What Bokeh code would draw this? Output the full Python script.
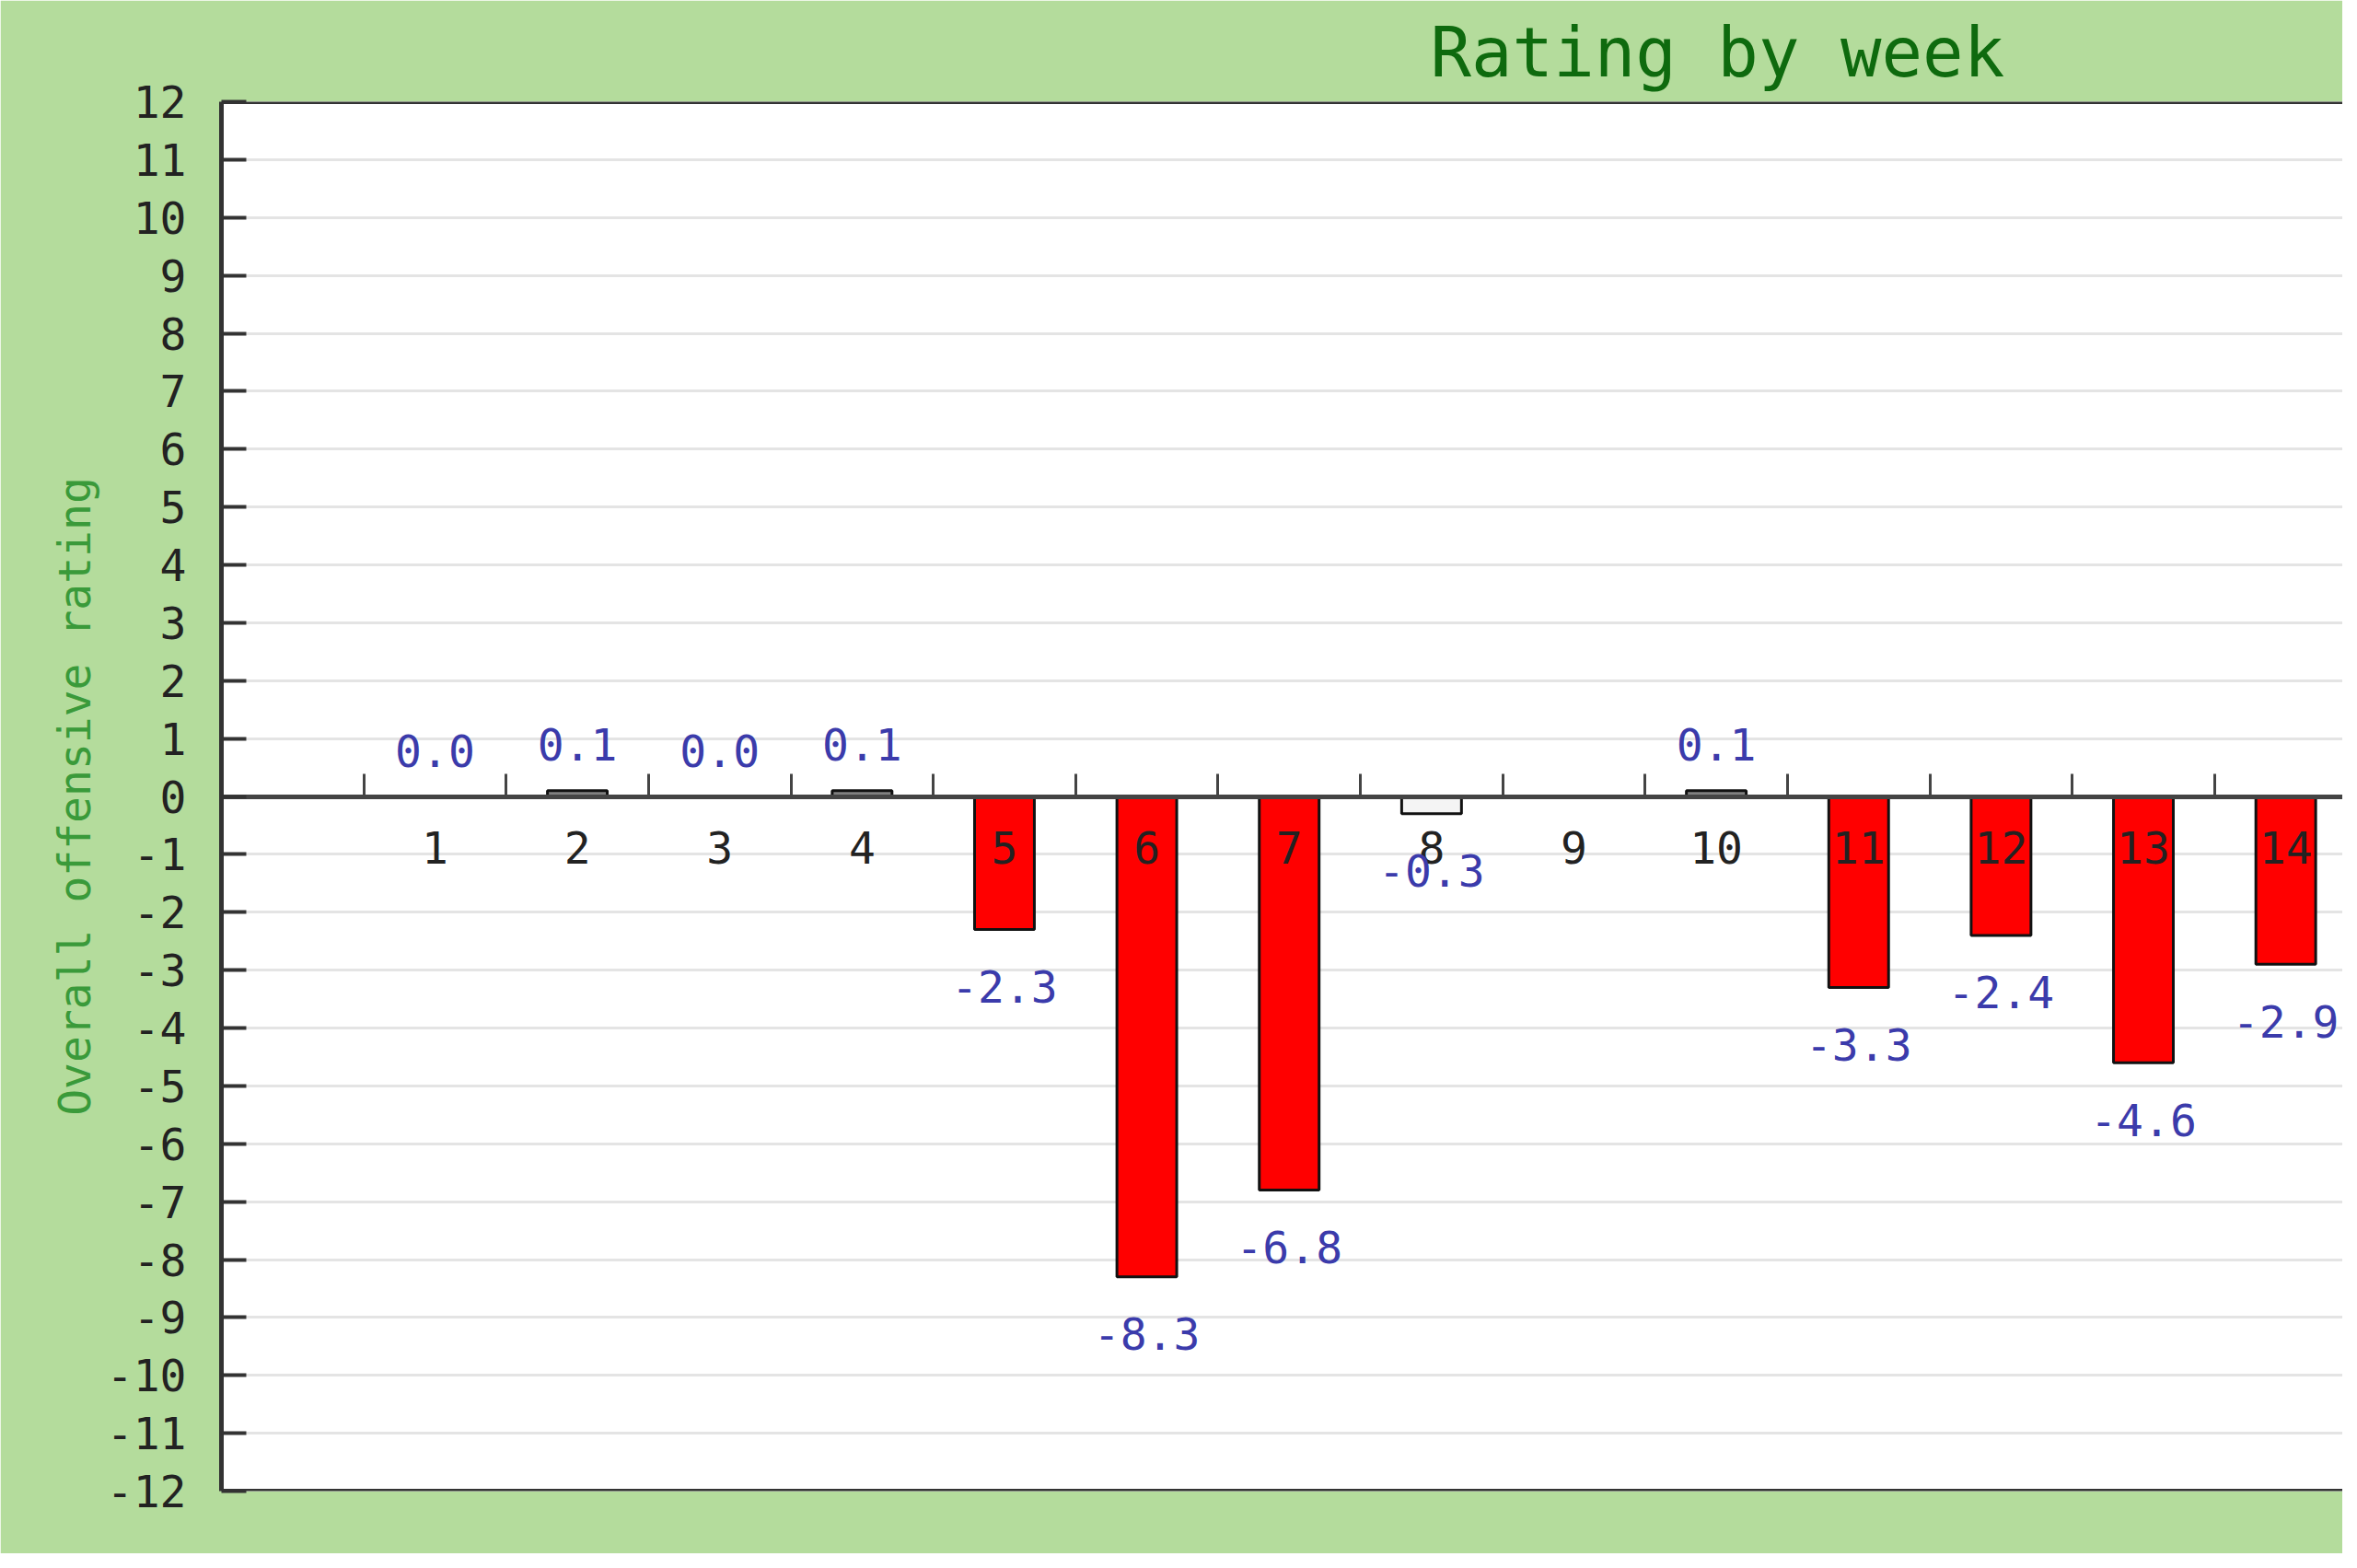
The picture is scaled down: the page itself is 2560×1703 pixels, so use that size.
from bokeh.plotting import figure
from bokeh.models import LinearAxis, FixedTicker, Span, ColumnDataSource, Range1d
from bokeh.embed import file_html
from bokeh.resources import INLINE
from bokeh.core.properties import value

# ---- data ----
weeks = list(range(1, 15))
ratings = [0.0, 0.1, 0.0, 0.1, -2.3, -8.3, -6.8, -0.3, None, 0.1, -3.3, -2.4, -4.6, -2.9]
y_ticks = list(range(-12, 13))
week_boundaries = [w + 0.5 for w in range(0, 15)]
title_text = "Rating by week"
y_label = "Overall offensive rating"

FONT = "DejaVu Sans Mono"
BG = "#b4dc9c"


def bar_color(v):
    if v > 0:
        return "#808080"
    if v > -1:
        return "#f4f4f4"
    return "#ff0000"


have = [(w, v) for w, v in zip(weeks, ratings) if v is not None]
bar_src = ColumnDataSource(dict(
    week=[w for w, _ in have],
    rating=[v for _, v in have],
    color=[bar_color(v) for _, v in have],
))
pos_src = ColumnDataSource(dict(
    week=[w for w, v in have if v >= 0],
    rating=[v for w, v in have if v >= 0],
    label=[f"{v:.1f}" for w, v in have if v >= 0],
))
neg_src = ColumnDataSource(dict(
    week=[w for w, v in have if v < 0],
    rating=[v for w, v in have if v < 0],
    label=[f"{v:.1f}" for w, v in have if v < 0],
))

p = figure(width=2544, height=1687, output_backend="svg", toolbar_location=None,
           x_range=Range1d(-0.5, 14.40), y_range=Range1d(-12, 12),
           min_border_left=240, min_border_right=0, min_border_top=110,
           min_border_bottom=68)
p.border_fill_color = BG
p.background_fill_color = "white"
p.outline_line_color = None

# title
p.title.text = title_text
p.title.align = "left"
p.title.offset = 1313
p.title.text_font = FONT
p.title.text_font_size = "74px"
p.title.text_font_style = "normal"
p.title.text_color = "#0e6a0e"
p.title.standoff = 22

# grid
p.xgrid.visible = False
p.ygrid.ticker = FixedTicker(ticks=y_ticks)
p.ygrid.grid_line_color = "#e4e4e4"
p.ygrid.grid_line_width = 3

# y axis
ya = p.yaxis[0]
ya.ticker = FixedTicker(ticks=y_ticks)
ya.major_label_overrides = {t: str(t) for t in y_ticks}
ya.major_label_text_font = FONT
ya.major_label_text_font_size = "48px"
ya.major_label_text_color = "#222222"
ya.major_label_standoff = 38
ya.major_tick_in = 27
ya.major_tick_out = 0
ya.major_tick_line_width = 4
ya.major_tick_line_color = "#333333"
ya.minor_tick_line_color = None
ya.axis_line_width = 5
ya.axis_line_color = "#333333"
ya.axis_label = y_label
ya.axis_label_text_font = FONT
ya.axis_label_text_font_size = "48px"
ya.axis_label_text_font_style = "normal"
ya.axis_label_text_color = "#3a9a3a"
ya.axis_label_standoff = 4

# x axis at zero: line + boundary ticks
xa = p.xaxis[0]
xa.fixed_location = 0
xa.ticker = FixedTicker(ticks=week_boundaries)
xa.major_tick_in = 25
xa.major_tick_out = 0
xa.major_tick_line_width = 3
xa.major_tick_line_color = "#444444"
xa.minor_tick_line_color = None
xa.major_label_text_color = None
xa.axis_line_width = 5
xa.axis_line_color = "#444444"

# x labels at week centres
la = LinearAxis(fixed_location=0, ticker=FixedTicker(ticks=weeks),
                axis_line_color=None, major_tick_line_color=None,
                minor_tick_line_color=None, major_tick_in=0, major_tick_out=0,
                major_label_standoff=38, major_label_text_font=FONT,
                major_label_text_font_size="48px", major_label_text_color="#222222",
                major_label_overrides={w: str(w) for w in weeks})
p.add_layout(la, "below")

# frame borders (top / bottom)
p.add_layout(Span(location=12, dimension="width", line_color="#333333", line_width=5))
p.add_layout(Span(location=-12, dimension="width", line_color="#333333", line_width=5))

# bars
p.vbar(x="week", top="rating", bottom=0, width=0.42, fill_color="color",
       line_color="#111111", line_width=3, source=bar_src)

# value labels
p.text(x="week", y="rating", text="label", source=pos_src, text_align="center",
       text_baseline="alphabetic", y_offset=-50, text_font=value(FONT),
       text_font_size="48px", text_color="#3b3bab", level="overlay")
p.text(x="week", y="rating", text="label", source=neg_src, text_align="center",
       text_baseline="alphabetic", y_offset=62, text_font=value(FONT),
       text_font_size="48px", text_color="#3b3bab", level="overlay")

open("out.html", "w").write(file_html(p, INLINE))
